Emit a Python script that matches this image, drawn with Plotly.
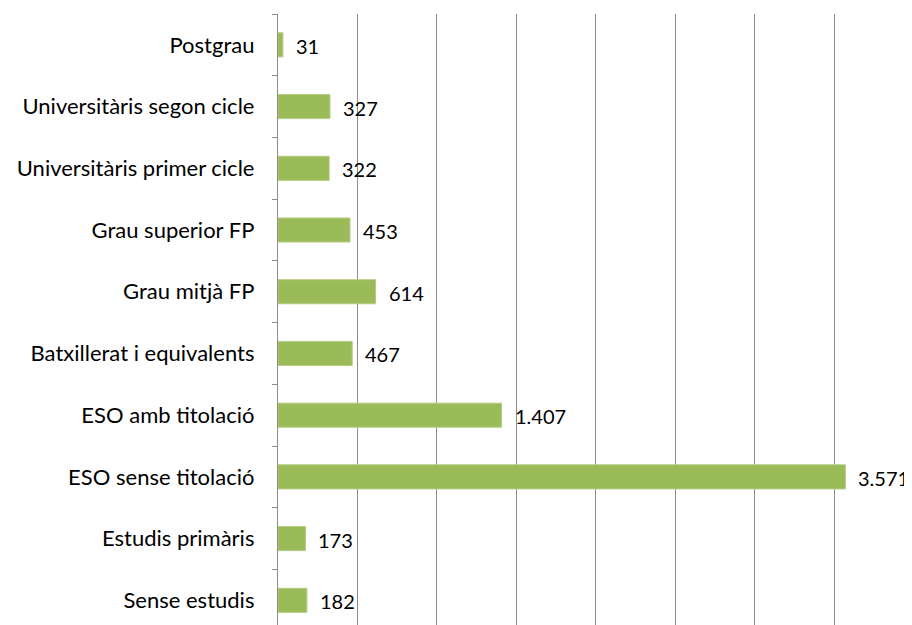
import plotly.graph_objects as go

categories = ["Sense estudis", "Estudis primàris", "ESO sense titolació", "ESO amb titolació",
              "Batxillerat i equivalents", "Grau mitjà FP", "Grau superior FP",
              "Universitàris primer cicle", "Universitàris segon cicle", "Postgrau"]
values = [182, 173, 3571, 1407, 467, 614, 453, 322, 327, 31]
value_labels = ["182", "173", "3.571", "1.407", "467", "614", "453", "322", "327", "31"]

FONT = "Lato"
fig = go.Figure()
fig.add_trace(go.Bar(
    x=values, y=categories, orientation="h",
    marker=dict(color="#9BBB59", line=dict(color="#B4CC82", width=1)),
    width=0.39, hoverinfo="skip",
))
for c, v, t in zip(categories, values, value_labels):
    fig.add_annotation(x=v, y=c, text=t, showarrow=False, xanchor="left",
                       xshift=12, yshift=-1, borderpad=0,
                       font=dict(family=FONT, size=20, color="#000000"))

fig.update_layout(
    width=904, height=617,
    margin=dict(l=270, r=0, t=6, b=0),
    plot_bgcolor="white", paper_bgcolor="white",
    showlegend=False,
    xaxis=dict(range=[0, 3990], dtick=500, tick0=0, showticklabels=False,
               showgrid=True, gridcolor="#8C8C8C", gridwidth=1.3,
               zeroline=False, showline=False, ticks=""),
    yaxis=dict(type="category", categoryorder="array", categoryarray=categories,
               range=[-0.40, 9.5], showline=True, linecolor="#8C8C8C", linewidth=1.3,
               ticks="outside", tickson="boundaries", ticklen=5, tickcolor="#8C8C8C",
               tickfont=dict(family=FONT, size=22, color="#000000"),
               showgrid=False, zeroline=False, ticklabelstandoff=18),
)
fig.write_html("out.html")
